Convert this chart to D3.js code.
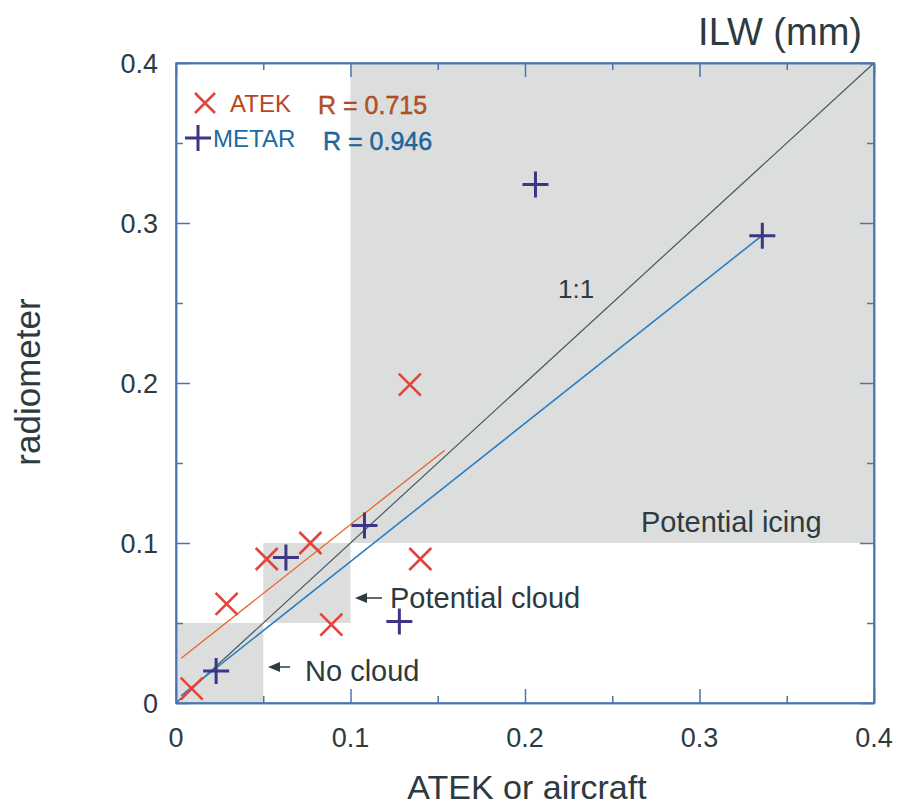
<!DOCTYPE html>
<html><head><meta charset="utf-8">
<script src="https://cdn.jsdelivr.net/npm/d3@7"></script>
<style>body{margin:0;background:#fff}svg{display:block}text{font-family:"Liberation Sans",Arial,sans-serif}</style>
</head><body>
<svg id="c" width="903" height="809"></svg>
<script>
const atekX = [0.009, 0.029, 0.052, 0.077, 0.089, 0.134, 0.140];
const atekY = [0.009, 0.062, 0.090, 0.100, 0.049, 0.199, 0.090];
const metarX = [0.023, 0.063, 0.108, 0.128, 0.206, 0.336];
const metarY = [0.020, 0.091, 0.111, 0.051, 0.324, 0.292];
const regions = [[0,0.05],[0.05,0.1],[0.1,0.4]];
const atekFit = [[0.003,0.028],[0.154,0.158]];
const metarFit = [[0.003,0.0046],[0.336,0.2923]];
const oneToOne = [[0,0],[0.4,0.4]];
const majorTicks = [0,0.1,0.2,0.3,0.4];
const tickLabels = ["0","0.1","0.2","0.3","0.4"];
const minorTicks = [0.05,0.15,0.25,0.35];

const svg = d3.select("#c");
const L=176,R=874,T=63,B=703;
const x = d3.scaleLinear().domain([0,0.4]).range([L,R]);
const y = d3.scaleLinear().domain([0,0.4]).range([B,T]);
const axisCol = "#4a74b0";

svg.selectAll("rect.reg").data(regions).join("rect")
  .attr("x",d=>x(d[0])).attr("y",d=>y(d[1])).attr("width",d=>x(d[1])-x(d[0])).attr("height",d=>y(d[0])-y(d[1]))
  .attr("fill","#dcdedd");

const line = d3.line().x(d=>x(d[0])).y(d=>y(d[1]));
svg.append("path").attr("d",line(oneToOne)).attr("stroke","#46585e").attr("stroke-width",1.2).attr("fill","none");
svg.append("path").attr("d",line(atekFit)).attr("stroke","#e8652a").attr("stroke-width",1.3).attr("fill","none");
svg.append("path").attr("d",line(metarFit)).attr("stroke","#1f78c0").attr("stroke-width",1.5).attr("fill","none");
svg.append("path").attr("d",line(metarFit)).attr("transform","translate(1.5,-1.5)").attr("stroke","#3b8ccc").attr("stroke-width",1).attr("stroke-dasharray","14,10").attr("fill","none");

function ax(gen, tr){ svg.append("g").attr("transform",tr).call(gen); }
ax(d3.axisBottom(x).tickValues(majorTicks).tickSizeInner(-14).tickSizeOuter(0).tickFormat(""),`translate(0,${B})`);
ax(d3.axisBottom(x).tickValues(minorTicks).tickSizeInner(-7).tickSizeOuter(0).tickFormat(""),`translate(0,${B})`);
ax(d3.axisTop(x).tickValues(majorTicks).tickSizeInner(-14).tickSizeOuter(0).tickFormat(""),`translate(0,${T})`);
ax(d3.axisTop(x).tickValues(minorTicks).tickSizeInner(-7).tickSizeOuter(0).tickFormat(""),`translate(0,${T})`);
ax(d3.axisLeft(y).tickValues(majorTicks).tickSizeInner(-14).tickSizeOuter(0).tickFormat(""),`translate(${L},0)`);
ax(d3.axisLeft(y).tickValues(minorTicks).tickSizeInner(-7).tickSizeOuter(0).tickFormat(""),`translate(${L},0)`);
ax(d3.axisRight(y).tickValues(majorTicks).tickSizeInner(-14).tickSizeOuter(0).tickFormat(""),`translate(${R},0)`);
ax(d3.axisRight(y).tickValues(minorTicks).tickSizeInner(-7).tickSizeOuter(0).tickFormat(""),`translate(${R},0)`);
svg.selectAll(".domain, .tick line").attr("stroke",axisCol).attr("stroke-width",1.5);
svg.append("rect").attr("x",L).attr("y",T).attr("width",R-L).attr("height",B-T).attr("fill","none").attr("stroke",axisCol).attr("stroke-width",1.5);

const tc="#2d3a40";
svg.selectAll("text.xl").data(majorTicks).join("text").attr("class","xl")
  .attr("x",d=>x(d)).attr("y",747).attr("text-anchor","middle").attr("font-size",27).attr("fill",tc)
  .text((d,i)=>tickLabels[i]);
svg.selectAll("text.yl").data(majorTicks).join("text").attr("class","yl")
  .attr("x",158).attr("y",d=>y(d)+10).attr("text-anchor","end").attr("font-size",27).attr("fill",tc)
  .text((d,i)=>tickLabels[i]);

const xs=11, ps=13;
const gA = svg.append("g").attr("stroke","#e0443a").attr("stroke-width",2.6);
atekX.forEach((v,i)=>{
  const cx=x(v), cy=y(atekY[i]);
  gA.append("path").attr("d",`M${cx-xs},${cy-xs}L${cx+xs},${cy+xs}M${cx-xs},${cy+xs}L${cx+xs},${cy-xs}`);
});
const gM = svg.append("g").attr("stroke","#3f3585").attr("stroke-width",3);
metarX.forEach((v,i)=>{
  const cx=x(v), cy=y(metarY[i]);
  gM.append("path").attr("d",`M${cx-ps},${cy}L${cx+ps},${cy}M${cx},${cy-ps}L${cx},${cy+ps}`);
});

gA.append("path").attr("d",`M195,93L215,113M195,113L215,93`);
gM.append("path").attr("d",`M185,138L211,138M198,125L198,151`);
svg.append("text").attr("x",230).attr("y",112).attr("font-size",24).attr("fill","#b8461c").text("ATEK");
svg.append("text").attr("x",318).attr("y",114).attr("font-size",25).attr("fill","#c0531f").attr("stroke","#8a3a18").attr("stroke-width",0.4).text("R = 0.715");
svg.append("text").attr("x",213).attr("y",147).attr("font-size",24).attr("fill","#1a6aa8").text("METAR");
svg.append("text").attr("x",323).attr("y",150).attr("font-size",25).attr("fill","#1a6aa8").attr("stroke","#14507e").attr("stroke-width",0.4).text("R = 0.946");

svg.append("text").attr("x",862).attr("y",45).attr("text-anchor","end").attr("font-size",38).attr("fill",tc).text("ILW (mm)");
svg.append("text").attr("transform","translate(40,382) rotate(-90)").attr("text-anchor","middle").attr("font-size",35).attr("fill",tc).text("radiometer");
svg.append("text").attr("x",527).attr("y",799).attr("text-anchor","middle").attr("font-size",34).attr("fill",tc).text("ATEK or aircraft");
svg.append("text").attr("x",558).attr("y",298).attr("font-size",26).attr("fill",tc).text("1:1");
svg.append("text").attr("x",641).attr("y",532).attr("font-size",29).attr("fill",tc).text("Potential icing");
svg.append("text").attr("x",390).attr("y",608).attr("font-size",29).attr("fill",tc).text("Potential cloud");
svg.append("text").attr("x",305).attr("y",681).attr("font-size",29).attr("fill",tc).text("No cloud");
function arrow(x1,x2,yy){
  svg.append("line").attr("x1",x1).attr("x2",x2+6).attr("y1",yy).attr("y2",yy).attr("stroke",tc).attr("stroke-width",1.5);
  svg.append("path").attr("d",`M${x2},${yy}L${x2+12},${yy-5}L${x2+12},${yy+5}Z`).attr("fill",tc);
}
arrow(382,355,598);
arrow(290,268,667);
</script>
</body></html>
